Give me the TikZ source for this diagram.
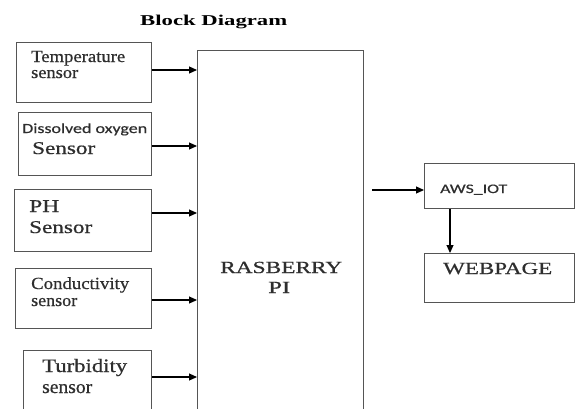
\documentclass[tikz,border=0pt]{standalone}
\usepackage{fontspec}
\setmainfont{Liberation Serif}
\newfontfamily\heavy[FakeBold=0.6]{Liberation Serif}
\newfontfamily\calib[FakeBold=0.4]{Carlito}
\usetikzlibrary{arrows.meta}
\newcommand\fitw[2]{\resizebox{#1pt}{\height}{#2}}
\definecolor{boxline}{HTML}{555555}
\definecolor{txt}{HTML}{2E2E2E}
\tikzset{
  blk/.style={draw=boxline, line width=1.1pt, rectangle, inner sep=0pt, anchor=north west},
  lbl/.style={inner sep=0pt, anchor=base west, text=txt, font=\heavy},
  arr/.style={line width=1.1pt, -{Triangle[length=8pt,width=7pt]}}
}
\begin{document}
\begin{tikzpicture}[x=1pt,y=-1pt]
\clip (0,0) rectangle (577,408);
\fill[white] (0,0) rectangle (577,408);
% title
\node[lbl, text=black] (title) at (140,25) {\fitw{147}{\fontsize{15}{15}\selectfont\rmfamily\bfseries Block Diagram}};
% boxes
\node[blk, minimum width=135pt, minimum height=60pt] (temp) at (16,42) {};
\node[blk, minimum width=133pt, minimum height=63pt] (dox) at (18,112) {};
\node[blk, minimum width=137pt, minimum height=62pt] (ph) at (14,189) {};
\node[blk, minimum width=136pt, minimum height=60pt] (cond) at (15,268) {};
\node[blk, minimum width=128pt, minimum height=80pt] (turb) at (23,350) {};
\node[blk, minimum width=166pt, minimum height=380pt] (rpi) at (197,50) {};
\node[blk, minimum width=150pt, minimum height=45pt] (aws) at (424,163) {};
\node[blk, minimum width=150pt, minimum height=49pt] (web) at (424,253) {};
% labels
\node[lbl] (t1) at (31,62) {\fitw{94}{\fontsize{17}{17}\selectfont Temperature}};
\node[lbl] (t2) at (31,78) {\fitw{47}{\fontsize{17}{17}\selectfont sensor}};
\node[lbl] (d1) at (22,133) {\fitw{125}{\fontsize{14}{14}\selectfont\calib Dissolved oxygen}};
\node[lbl] (d2) at (32,154) {\fitw{63}{\fontsize{18}{18}\selectfont Sensor}};
\node[lbl] (p1) at (29,212) {\fitw{30}{\fontsize{18}{18}\selectfont PH}};
\node[lbl] (p2) at (29,233) {\fitw{63}{\fontsize{18}{18}\selectfont Sensor}};
\node[lbl] (c1) at (31,289) {\fitw{98}{\fontsize{17}{17}\selectfont Conductivity}};
\node[lbl] (c2) at (31,306) {\fitw{46}{\fontsize{17}{17}\selectfont sensor}};
\node[lbl] (u1) at (42,372) {\fitw{85}{\fontsize{19}{19}\selectfont Turbidity}};
\node[lbl] (u2) at (42,393) {\fitw{50}{\fontsize{19}{19}\selectfont sensor}};
\node[lbl] (r1) at (220,273) {\fitw{122}{\fontsize{17}{17}\selectfont RASBERRY}};
\node[lbl] (r2) at (268,293) {\fitw{22}{\fontsize{17}{17}\selectfont PI}};
\node[lbl] (a1) at (440,193) {\fitw{67}{\fontsize{13}{13}\selectfont\calib AWS\_IOT}};
\node[lbl] (w1) at (443,274) {\fitw{109}{\fontsize{17}{17}\selectfont WEBPAGE}};
% arrow rows
\coordinate (y1) at (0,70);
\coordinate (y2) at (0,146);
\coordinate (y3) at (0,213);
\coordinate (y4) at (0,300);
\coordinate (y5) at (0,377);
\coordinate (awsin) at (372,190);
\coordinate (dx) at (450,0);
\draw[arr] (temp.east |- y1) -- (rpi.west |- y1);
\draw[arr] (dox.east |- y2) -- (rpi.west |- y2);
\draw[arr] (ph.east |- y3) -- (rpi.west |- y3);
\draw[arr] (cond.east |- y4) -- (rpi.west |- y4);
\draw[arr] (turb.east |- y5) -- (rpi.west |- y5);
\draw[arr] (awsin) -- (aws.west |- awsin);
\draw[arr] (aws.south -| dx) -- (web.north -| dx);
\end{tikzpicture}
\end{document}
